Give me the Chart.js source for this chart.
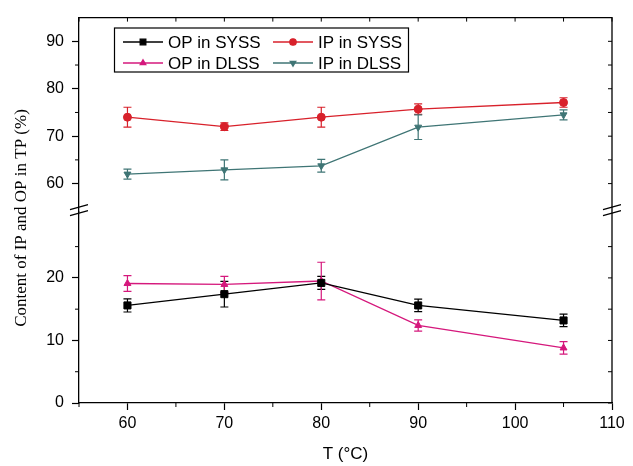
<!DOCTYPE html>
<html>
<head>
<meta charset="utf-8">
<script src="https://cdn.jsdelivr.net/npm/chart.js@4/dist/chart.umd.min.js"></script>
<style>
  html, body { margin: 0; padding: 0; background: #fff; }
  #wrap { width: 633px; height: 466px; position: relative; }
</style>
</head>
<body>
<div id="wrap"><canvas id="chart"></canvas></div>
<script>
const temps = [60, 70, 80, 90, 105];

const opSyss = [15.6, 17.4, 19.2, 15.6, 13.2];
const opSyssErr = [1.05, 2.05, 1.05, 1.0, 1.0];
const ipSyss = [74.0, 72.0, 74.0, 75.7, 77.1];
const ipSyssErr = [2.1, 0.8, 2.1, 1.1, 1.0];
const opDlss = [19.1, 18.95, 19.5, 12.4, 8.8];
const opDlssErr = [1.25, 1.3, 3.0, 0.9, 1.0];
const ipDlss = [62.0, 62.9, 63.75, 71.9, 74.5];
const ipDlssErr = [1.05, 2.1, 1.35, 2.6, 1.05];

const lowTicks = [0, 5, 10, 15, 20, 25];
const highTicks = [60, 65, 70, 75, 80, 85, 90];

const SANS = '"Liberation Sans", Arial, sans-serif';
const SERIF = '"Liberation Serif", "Times New Roman", serif';

function pts(ys) {
  return temps.map((t, i) => ({ x: t, y: ys[i] }));
}

function series(label, ys, err, axis, color, style, radius, rot) {
  return {
    label: label,
    data: pts(ys),
    err: err,
    yAxisID: axis,
    borderColor: color,
    backgroundColor: color,
    pointBackgroundColor: color,
    pointBorderColor: color,
    pointStyle: style,
    pointRadius: radius,
    pointRotation: rot || 0,
    pointBorderWidth: 1,
    borderWidth: 1.3,
    tension: 0,
    fill: false
  };
}

const datasets = [
  series('OP in SYSS', opSyss, opSyssErr, 'yLow', '#000000', 'rect', 5),
  series('IP in SYSS', ipSyss, ipSyssErr, 'yHigh', '#d8212b', 'circle', 4),
  series('OP in DLSS', opDlss, opDlssErr, 'yLow', '#d5187c', 'triangle', 4),
  series('IP in DLSS', ipDlss, ipDlssErr, 'yHigh', '#3f7575', 'triangle', 4, 180)
];

const majorColor = (c) => (c.tick && c.tick.value % 10 === 0) ? '#000' : 'rgba(0,0,0,0)';

function yScale(min, max, weight, keep) {
  return {
    type: 'linear',
    position: 'left',
    stack: 'y',
    stackWeight: weight,
    min: min,
    max: max,
    afterBuildTicks: (s) => { s.ticks = keep.map(v => ({ value: v })); },
    afterFit: (s) => { s.width = 79; },
    ticks: {
      autoSkip: false,
      padding: 8,
      color: '#000',
      font: { family: SANS, size: 16 },
      callback: (v) => (v % 10 === 0 ? String(v) : '')
    },
    grid: { drawOnChartArea: false, tickLength: 7, tickWidth: 1.2, tickColor: majorColor },
    border: { color: '#000', width: 1.3 }
  };
}

const decor = {
  id: 'decor',
  beforeDatasetsDraw(chart) {
    const ctx = chart.ctx, xs = chart.scales.x;
    chart.data.datasets.forEach(ds => {
      const ys = chart.scales[ds.yAxisID];
      ctx.save();
      ctx.strokeStyle = ds.borderColor;
      ctx.lineWidth = 1.2;
      ctx.beginPath();
      ds.data.forEach((p, i) => {
        const x = xs.getPixelForValue(p.x);
        const y1 = ys.getPixelForValue(p.y - ds.err[i]);
        const y2 = ys.getPixelForValue(p.y + ds.err[i]);
        ctx.moveTo(x, y1); ctx.lineTo(x, y2);
        ctx.moveTo(x - 4, y1); ctx.lineTo(x + 4, y1);
        ctx.moveTo(x - 4, y2); ctx.lineTo(x + 4, y2);
      });
      ctx.stroke();
      ctx.restore();
    });
  },
  afterDraw(chart) {
    const ctx = chart.ctx, a = chart.chartArea;
    const xs = chart.scales.x, lo = chart.scales.yLow, hi = chart.scales.yHigh;
    ctx.save();
    ctx.strokeStyle = '#000';
    ctx.lineWidth = 1.3;

    // top and right frame
    ctx.beginPath();
    ctx.moveTo(a.left, a.top); ctx.lineTo(a.right, a.top); ctx.lineTo(a.right, a.bottom);
    ctx.stroke();

    // inner / minor ticks
    ctx.lineWidth = 1;
    ctx.beginPath();
    xs.ticks.forEach(t => {
      const x = xs.getPixelForValue(t.value);
      ctx.moveTo(x, a.top); ctx.lineTo(x, a.top + 4);
      if (t.value % 10 !== 0) { ctx.moveTo(x, a.bottom); ctx.lineTo(x, a.bottom + 4); }
    });
    [[lo, lowTicks], [hi, highTicks]].forEach(([s, list]) => {
      list.forEach(v => {
        const y = s.getPixelForValue(v);
        ctx.moveTo(a.right, y); ctx.lineTo(a.right - 4, y);
        if (v % 10 !== 0) { ctx.moveTo(a.left, y); ctx.lineTo(a.left - 4, y); }
      });
    });
    ctx.stroke();

    // axis break marks
    const yb = hi.bottom - 3;
    ctx.lineWidth = 1.2;
    ctx.beginPath();
    [a.left, a.right].forEach(x => {
      ctx.moveTo(x - 9, yb + 1); ctx.lineTo(x + 9, yb - 4);
      ctx.moveTo(x - 9, yb + 7); ctx.lineTo(x + 9, yb + 2);
    });
    ctx.stroke();

    // y title
    ctx.save();
    ctx.translate(22, 218);
    ctx.rotate(-Math.PI / 2);
    ctx.fillStyle = '#000';
    ctx.font = '17px ' + SERIF;
    ctx.textAlign = 'center';
    ctx.textBaseline = 'middle';
    ctx.fillText('Content of IP and OP in TP (%)', 0, 0);
    ctx.restore();

    // legend
    ctx.lineWidth = 1.2;
    ctx.strokeRect(114.5, 28, 294, 44);
    ctx.font = '17px ' + SANS;
    ctx.textBaseline = 'middle';
    ctx.textAlign = 'left';
    chart.data.datasets.forEach((ds, i) => {
      const x0 = i % 2 === 0 ? 123 : 273;
      const y0 = i < 2 ? 42 : 63;
      ctx.strokeStyle = ds.borderColor;
      ctx.fillStyle = ds.borderColor;
      ctx.lineWidth = 1.3;
      ctx.beginPath(); ctx.moveTo(x0, y0); ctx.lineTo(x0 + 40, y0); ctx.stroke();
      Chart.helpers.drawPoint(ctx, {
        pointStyle: ds.pointStyle,
        radius: ds.pointRadius * 0.8,
        rotation: ds.pointRotation,
        borderWidth: 1
      }, x0 + 20, y0);
      ctx.fillStyle = '#000';
      ctx.fillText(ds.label, x0 + 45, y0 + 1);
    });
    ctx.restore();
  }
};

new Chart(document.getElementById('chart'), {
  type: 'line',
  data: { datasets: datasets },
  plugins: [decor],
  options: {
    responsive: true,
    maintainAspectRatio: false,
    animation: false,
    layout: { padding: { left: 0, right: 21, top: 13, bottom: 0 } },
    plugins: { legend: { display: false }, tooltip: { enabled: false } },
    scales: {
      x: {
        type: 'linear',
        position: 'bottom',
        min: 55,
        max: 110,
        afterFit: (s) => { s.height = 63; },
        ticks: {
          stepSize: 5,
          autoSkip: false,
          maxRotation: 0,
          padding: 4,
          color: '#000',
          font: { family: SANS, size: 16 },
          callback: (v) => (v % 10 === 0 ? String(v) : '')
        },
        grid: { drawOnChartArea: false, tickLength: 7, tickWidth: 1.2, tickColor: majorColor },
        border: { color: '#000', width: 1.3 },
        title: {
          display: true,
          text: 'T (°C)',
          color: '#000',
          font: { family: SANS, size: 17 },
          padding: { top: 0, bottom: 1 }
        }
      },
      yLow: yScale(0, 30.6, 193.7, lowTicks),
      yHigh: yScale(54.1, 95, 196.3, highTicks)
    }
  }
});
</script>
</body>
</html>
